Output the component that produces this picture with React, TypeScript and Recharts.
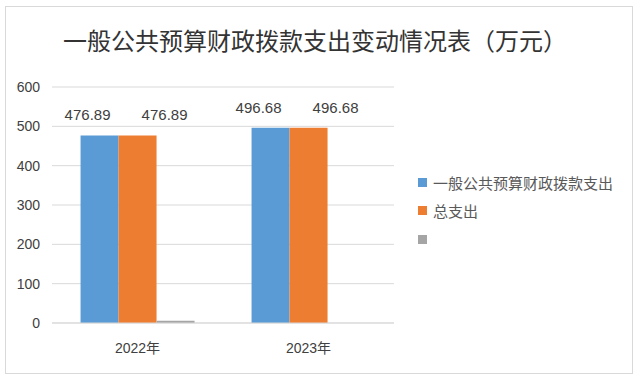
import { Bar, BarChart, CartesianGrid, LabelList, Legend, XAxis, YAxis } from "recharts";

const categories = ["2022年", "2023年"];
const appropriation = [476.89, 496.68];
const totalSpend = [476.89, 496.68];
const unnamed = [6, 0];
const yTicks = [0, 100, 200, 300, 400, 500, 600];

const seriesInfo = [
  { key: "a", name: "一般公共预算财政拨款支出", color: "#5b9bd5", labelDx: -12 },
  { key: "b", name: "总支出", color: "#ed7d31", labelDx: 27 },
  { key: "c", name: "", color: "#a5a5a5", labelDx: 0 },
];

const data = categories.map((c, i) => ({
  name: c,
  a: appropriation[i],
  b: totalSpend[i],
  c: unnamed[i],
}));

const font = "'Liberation Sans', 'Noto Sans CJK SC', sans-serif";

function LegendBox() {
  return (
    <div style={{ position: "absolute", left: 418, top: 168, fontFamily: "'Noto Sans CJK SC', sans-serif" }}>
      {seriesInfo.map((s) => (
        <div key={s.key} style={{ display: "flex", alignItems: "center", height: 28.5 }}>
          <span style={{ width: 9, height: 9, background: s.color, display: "inline-block", marginRight: 6 }} />
          <span style={{ fontSize: 15, color: "#595959" }}>{s.name}</span>
        </div>
      ))}
    </div>
  );
}

export default function App() {
  return (
    <div style={{ position: "fixed", left: 0, top: 0, width: 640, height: 383, background: "#fff" }}>
      <div
        style={{
          position: "absolute",
          left: 5,
          top: 6,
          width: 626,
          height: 366,
          border: "1px solid #d9d9d9",
        }}
      />
      <div
        style={{
          position: "absolute",
          left: 0,
          width: 630,
          top: 22,
          textAlign: "center",
          fontSize: 24,
          color: "#333",
          fontFamily: "'Noto Sans CJK SC', sans-serif",
        }}
      >
        一般公共预算财政拨款支出变动情况表（万元）
      </div>
      <div style={{ position: "absolute", left: 0, top: 0 }}>
        <BarChart
          width={640}
          height={383}
          data={data}
          margin={{ top: 87, right: 246, bottom: 30, left: 0 }}
          barCategoryGap="16.7%"
          barGap={0}
        >
          <CartesianGrid vertical={false} stroke="#d9d9d9" />
          <XAxis
            dataKey="name"
            axisLine={{ stroke: "#d9d9d9" }}
            tickLine={false}
            tickSize={0}
            tickMargin={20}
            height={30}
            tick={{ fill: "#404040", fontSize: 14, fontFamily: font }}
          />
          <YAxis
            width={52}
            domain={[0, 600]}
            ticks={yTicks}
            axisLine={false}
            tickLine={false}
            tickSize={0}
            tickMargin={12}
            tick={{ fill: "#404040", fontSize: 14, fontFamily: font }}
          />
          <Legend content={() => null} />
          {seriesInfo.map((s) => (
            <Bar key={s.key} dataKey={s.key} name={s.name} fill={s.color} isAnimationActive={false}>
              {s.key !== "c" && (
                <LabelList
                  dataKey={s.key}
                  position="top"
                  offset={15}
                  dx={s.labelDx}
                  fill="#404040"
                  fontSize={15}
                  fontFamily={font}
                />
              )}
            </Bar>
          ))}
        </BarChart>
      </div>
      <LegendBox />
    </div>
  );
}
